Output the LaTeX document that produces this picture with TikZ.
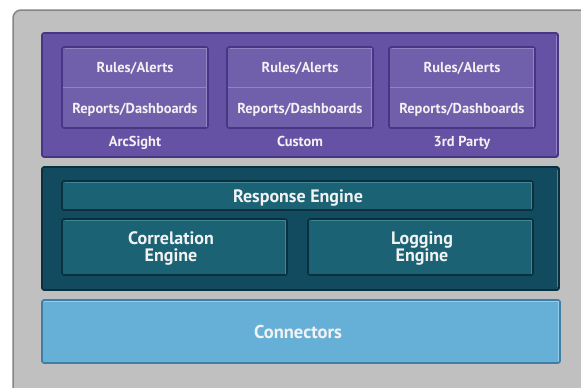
\documentclass[tikz,border=0pt]{standalone}
\usepackage{fontspec}
\setmainfont{PT Sans}
\definecolor{bggray}{HTML}{C0C0C0}
\definecolor{bgedge}{HTML}{858585}
\definecolor{purp}{HTML}{6652A4}
\definecolor{purpdark}{HTML}{463683}
\definecolor{purpin}{HTML}{7060AC}
\definecolor{purplight}{HTML}{9284C4}
\definecolor{tealout}{HTML}{124A60}
\definecolor{tealdark}{HTML}{0A2F3D}
\definecolor{tealin}{HTML}{1B6275}
\definecolor{teallight}{HTML}{3E8698}
\definecolor{conn}{HTML}{66B0D8}
\definecolor{conndark}{HTML}{3F7FA5}
\definecolor{connlight}{HTML}{92CDEC}
\definecolor{txt}{HTML}{F2F2F2}
\begin{document}
\begin{tikzpicture}[x=1pt,y=-1pt,
  box/.style={anchor=north west,inner sep=0pt,outer sep=0pt,rounded corners=2pt},
  pbox/.style={box,fill=purp,draw=purpdark,line width=1.6pt},
  pin/.style={box,fill=purpin,draw=purpdark,line width=1.6pt},
  tbox/.style={box,fill=tealout,draw=tealdark,line width=1.6pt},
  tin/.style={box,fill=tealin,draw=tealdark,line width=1.6pt},
  cbox/.style={box,fill=conn,draw=conndark,line width=1.6pt},
  small/.style={anchor=base,text=txt,font=\bfseries\fontsize{14.4}{14}\selectfont,inner sep=0pt},
  mid/.style={anchor=base,text=txt,font=\bfseries\fontsize{18}{17}\selectfont,inner sep=0pt,align=center},
  hl/.style={line width=0.8pt}
]
\useasboundingbox (0,0) rectangle (581,388);
% outer gray frame
\node[box,rounded corners=8pt,fill=bggray,draw=bgedge,line width=1.5pt,minimum width=575pt,minimum height=385pt] (frame) at (13,10) {};
% purple panel
\node[pbox,minimum width=516pt,minimum height=124pt] (purple) at (42,33) {};
\draw[purplight,hl] ([xshift=-1.2pt,yshift=-3pt]purple.north east) -- ([xshift=-1.2pt,yshift=3pt]purple.south east);
% sub boxes
\node[pin,minimum width=146pt,minimum height=81pt] (b1) at (62,47) {};
\node[pin,minimum width=146pt,minimum height=81pt] (b2) at (227,47) {};
\node[pin,minimum width=146pt,minimum height=81pt] (b3) at (389,47) {};
\foreach \b in {b1,b2,b3}{
  \draw[purplight,hl] ([xshift=3pt,yshift=-1.3pt]\b.north west) -- ([xshift=-1.3pt,yshift=-1.3pt]\b.north east) -- ([xshift=-1.3pt,yshift=1.3pt]\b.south east);
  \draw[purplight,hl] ([xshift=1pt]\b.west) -- ([xshift=-1pt]\b.east);
}
\node[small] (r1) at (135,72) {Rules/Alerts};
\node[small] (d1) at (135,113) {Reports/Dashboards};
\node[small] (r2) at (300,72) {Rules/Alerts};
\node[small] (d2) at (300,113) {Reports/Dashboards};
\node[small] (r3) at (462,72) {Rules/Alerts};
\node[small] (d3) at (462,113) {Reports/Dashboards};
\node[small] (l1) at (135,146) {ArcSight};
\node[small] (l2) at (300,146) {Custom};
\node[small] (l3) at (462,146) {3rd Party};
% teal panel
\node[tbox,minimum width=517pt,minimum height=123pt] (teal) at (42,167) {};
\draw[teallight,hl] ([xshift=-1.2pt,yshift=-3pt]teal.north east) -- ([xshift=-1.2pt,yshift=3pt]teal.south east);
\node[tin,minimum width=471pt,minimum height=29pt] (resp) at (62,181) {};
\node[tin,minimum width=225pt,minimum height=56pt] (corr) at (62,219) {};
\node[tin,minimum width=225pt,minimum height=56pt] (logg) at (308,219) {};
\foreach \b in {resp,corr,logg}{
  \draw[teallight,hl] ([xshift=3pt,yshift=-1.3pt]\b.north west) -- ([xshift=-1.3pt,yshift=-1.3pt]\b.north east) -- ([xshift=-1.3pt,yshift=1.3pt]\b.south east);
}
\node[mid] (respt) at (298,202) {Response Engine};
\node[mid] (corrt) at (171,261) {Correlation\\Engine};
\node[mid] (loggt) at (422,261) {Logging\\Engine};
% connectors
\node[cbox,minimum width=518pt,minimum height=63pt] (conn) at (42,300) {};
\draw[connlight,line width=1.2pt] ([xshift=2pt,yshift=-1.5pt]conn.north west) -- ([xshift=-1.5pt,yshift=-1.5pt]conn.north east) -- ([xshift=-1.5pt,yshift=2pt]conn.south east);
\node[mid,font=\bfseries\fontsize{18.5}{18}\selectfont] (connt) at (298,338) {Connectors};
\end{tikzpicture}
\end{document}
